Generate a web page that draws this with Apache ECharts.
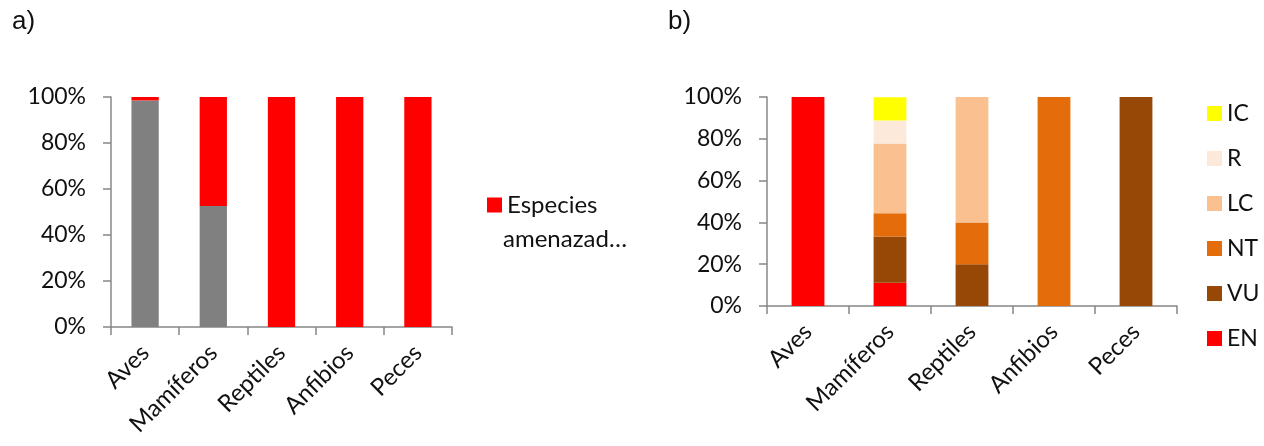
<!DOCTYPE html>
<html>
<head>
<meta charset="utf-8">
<script src="https://cdn.jsdelivr.net/npm/echarts@6/dist/echarts.min.js"></script>
<style>
  html, body { margin: 0; padding: 0; background: #fff; }
  #chart { width: 1264px; height: 446px; }
</style>
</head>
<body>
<div id="chart"></div>
<script>
// Taxonomic groups shared by both panels
const categories = ['Aves', 'Mamíferos', 'Reptiles', 'Anfibios', 'Peces'];
const yTicks = [0, 20, 40, 60, 80, 100];

// Panel a: share of non-threatened vs threatened species (%)
const noAmenazadas = [98.5, 52.6, 0, 0, 0];
const amenazadas = [1.5, 47.4, 100, 100, 100];

// Panel b: threatened species by category (%)
const catEN = [100, 11.1, 0, 0, 0];
const catVU = [0, 22.2, 20, 0, 100];
const catNT = [0, 11.1, 20, 100, 0];
const catLC = [0, 33.3, 60, 0, 0];
const catR  = [0, 11.1, 0, 0, 0];
const catIC = [0, 11.1, 0, 0, 0];

const FONT = 'Lato';
const INK = '#111';
const AXIS_GREY = '#878787';
const colors = {
  gris: '#808080', EN: '#FF0000', VU: '#974706', NT: '#E46C0A',
  LC: '#FAC090', R: '#FDE9D9', IC: '#FFFF00'
};

function yAxisFor(gridIndex) {
  return {
    type: 'value', gridIndex, min: yTicks[0], max: yTicks[yTicks.length - 1],
    interval: yTicks[1] - yTicks[0],
    axisLine: { show: true, lineStyle: { color: AXIS_GREY, width: 1.5 } },
    axisTick: { show: true, length: 8, lineStyle: { color: AXIS_GREY, width: 1.5 } },
    splitLine: { show: false },
    axisLabel: { formatter: '{value}%', fontFamily: FONT, fontSize: 23, color: INK, margin: 25 }
  };
}
function xAxisFor(gridIndex) {
  return {
    type: 'category', gridIndex, data: categories, boundaryGap: true,
    axisLine: { lineStyle: { color: AXIS_GREY, width: 1.5 } },
    axisTick: { show: true, length: 8, alignWithLabel: false, lineStyle: { color: AXIS_GREY, width: 1.5 } },
    axisLabel: { rotate: 45, interval: 0, fontFamily: FONT, fontSize: 24, color: INK, margin: 22 }
  };
}
function bar(name, data, color, idx, stack) {
  return {
    name, type: 'bar', stack, data, xAxisIndex: idx, yAxisIndex: idx,
    barWidth: '40%', itemStyle: { color }, emphasis: { disabled: true }
  };
}

const chart = echarts.init(document.getElementById('chart'), null, { renderer: 'canvas' });
chart.setOption({
  animation: false,
  backgroundColor: '#fff',
  title: [
    { text: 'a)', left: 7, top: 4, textStyle: { fontFamily: 'Liberation Sans', fontSize: 26, fontWeight: 'normal', color: INK } },
    { text: 'b)', left: 663, top: 4, textStyle: { fontFamily: 'Liberation Sans', fontSize: 26, fontWeight: 'normal', color: INK } }
  ],
  grid: [
    { left: 111, top: 97, width: 341, height: 230 },
    { left: 767, top: 97, width: 410, height: 209 }
  ],
  xAxis: [xAxisFor(0), xAxisFor(1)],
  yAxis: [yAxisFor(0), yAxisFor(1)],
  legend: [
    {
      data: ['Especies amenazadas'], left: 482, top: 185, orient: 'vertical',
      itemWidth: 15, itemHeight: 15, icon: 'rect',
      formatter: () => 'Especies',
      textStyle: { fontFamily: FONT, fontSize: 24, color: INK, lineHeight: 30 }
    },
    {
      data: ['IC', 'R', 'LC', 'NT', 'VU', 'EN'], left: 1202, top: 97, orient: 'vertical',
      itemWidth: 15, itemHeight: 15, icon: 'rect', itemGap: 22,
      textStyle: { fontFamily: FONT, fontSize: 23, color: INK, lineHeight: 23 }
    }
  ],
  // second line of the wrapped legend label in panel a
  graphic: [
    { type: 'text', left: 503, top: 227, style: { text: 'amenazad…', fontFamily: FONT, fontSize: 24, fill: INK } }
  ],
  series: [
    bar('Especies no amenazadas', noAmenazadas, colors.gris, 0, 'a'),
    bar('Especies amenazadas', amenazadas, colors.EN, 0, 'a'),
    bar('EN', catEN, colors.EN, 1, 'b'),
    bar('VU', catVU, colors.VU, 1, 'b'),
    bar('NT', catNT, colors.NT, 1, 'b'),
    bar('LC', catLC, colors.LC, 1, 'b'),
    bar('R', catR, colors.R, 1, 'b'),
    bar('IC', catIC, colors.IC, 1, 'b')
  ]
});
</script>
</body>
</html>
